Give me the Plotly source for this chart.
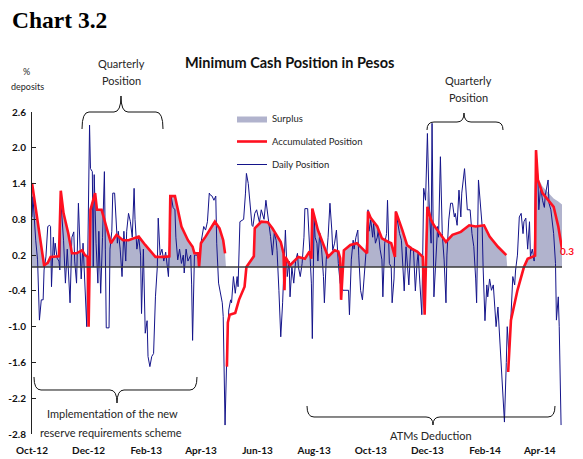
import plotly.graph_objects as go

# ---- data (% of deposits) ----
tick_dates = ["2012-10-01", "2012-12-01", "2013-02-01", "2013-04-01", "2013-06-01",
              "2013-08-01", "2013-10-01", "2013-12-01", "2014-02-01", "2014-04-01"]
tick_labels = ["Oct-12", "Dec-12", "Feb-13", "Apr-13", "Jun-13",
               "Aug-13", "Oct-13", "Dec-13", "Feb-14", "Apr-14"]
y_ticks = [2.6, 2.0, 1.4, 0.8, 0.2, -0.4, -1.0, -1.6, -2.2, -2.8]

acc_dates = [
    "2012-10-01", "2012-10-07", "2012-10-14", "2012-10-18", "2012-10-21", "2012-10-30",
    "2012-11-01", "2012-11-04", "2012-11-09", "2012-11-13", "2012-11-18", "2012-11-24", "2012-11-27", "2012-11-30",
    "2012-12-01", "2012-12-03", "2012-12-08", "2012-12-10", "2012-12-15", "2012-12-20", "2012-12-25", "2012-12-31",
    "2013-01-07", "2013-01-13", "2013-01-24", "2013-01-31",
    "2013-02-11", "2013-02-21", "2013-02-26", "2013-02-27",
    "2013-03-04", "2013-03-11", "2013-03-18", "2013-03-23", "2013-03-25", "2013-03-29", "2013-03-30",
    "2013-04-01", "2013-04-06", "2013-04-16", "2013-04-21", "2013-04-25", "2013-04-27", "2013-04-28", "2013-04-29", "2013-04-30",
    "2013-05-02", "2013-05-08", "2013-05-12", "2013-05-18", "2013-05-20", "2013-05-27", "2013-05-28", "2013-05-29",
    "2013-06-05", "2013-06-12", "2013-06-17", "2013-06-26", "2013-06-29", "2013-06-30",
    "2013-07-01", "2013-07-06", "2013-07-15", "2013-07-22", "2013-07-27", "2013-07-29", "2013-07-30",
    "2013-08-05", "2013-08-12", "2013-08-16", "2013-08-23", "2013-08-27", "2013-08-29", "2013-08-30",
    "2013-09-02", "2013-09-09", "2013-09-16", "2013-09-20", "2013-09-27", "2013-09-28",
    "2013-10-01", "2013-10-08", "2013-10-13", "2013-10-20", "2013-10-23", "2013-10-27", "2013-10-28",
    "2013-11-04", "2013-11-09", "2013-11-14", "2013-11-20", "2013-11-26", "2013-11-28",
    "2013-12-01", "2013-12-05", "2013-12-08", "2013-12-15", "2013-12-21", "2013-12-28",
    "2014-01-06", "2014-01-15", "2014-01-22", "2014-01-31",
    "2014-02-06", "2014-02-15", "2014-02-24", "2014-02-25", "2014-02-26",
    "2014-03-01", "2014-03-08", "2014-03-15", "2014-03-19", "2014-03-24", "2014-03-27", "2014-03-28", "2014-03-30",
    "2014-04-04", "2014-04-10", "2014-04-16", "2014-04-21", "2014-04-25",
]
acc_values = [
    1.41, 0.74, 0.03, 0.07, 0.17, 0.18,
    1.28, 0.90, 0.57, 0.23, 0.23, 0.28, 0.20, 0.17,
    -1.00, 0.96, 1.24, 0.96, 0.96, 0.68, 0.40, 0.54,
    0.45, 0.45, 0.51, 0.37,
    0.17, 0.17, 0.18, 1.19,
    1.19, 0.68, 0.45, 0.34, 0.23, 0.23, 0.00,
    0.40, 0.51, 0.76, 0.65, 0.45, 0.23, None, -1.67, -0.93,
    -0.80, -0.77, -0.55, -0.33, 0.00, 0.17, 0.18, 0.65,
    0.76, 0.75, 0.65, 0.42, 0.23, -0.39,
    0.17, 0.03, 0.17, 0.14, 0.26, 0.14, 0.98,
    0.62, 0.31, 0.17, 0.28, 0.26, 0.15, -0.55,
    0.28, 0.37, 0.40, 0.34, 0.23, 0.93,
    0.82, 0.68, 0.48, 0.42, 0.40, 0.17, 0.93,
    0.62, 0.37, 0.31, 0.26, 0.17, -0.80,
    1.01, 0.79, 0.70, 0.56, 0.42, 0.54,
    0.59, 0.70, 0.68, 0.70,
    0.51, 0.34, 0.20, None, -1.76,
    -0.89, -0.39, 0.00, 0.14, 0.17, 0.19, 1.96, 1.46,
    1.24, 1.12, 1.01, 0.68, 0.30,
]
surplus_values = [
    1.41, 0.74, 0.03, 0.07, 0.17, 0.18,
    1.28, 0.90, 0.57, 0.23, 0.23, 0.28, 0.20, 0.17,
    0.00, 0.96, 1.24, 0.96, 0.96, 0.68, 0.40, 0.54,
    0.45, 0.45, 0.51, 0.37,
    0.17, 0.17, 0.18, 1.19,
    1.19, 0.68, 0.45, 0.34, 0.23, 0.23, 0.00,
    0.40, 0.51, 0.76, 0.65, 0.45, 0.23, 0.00, 0.00, 0.00,
    0.00, 0.00, 0.00, 0.00, 0.00, 0.17, 0.18, 0.65,
    0.76, 0.75, 0.65, 0.42, 0.23, 0.00,
    0.17, 0.03, 0.17, 0.14, 0.26, 0.14, 0.98,
    0.62, 0.31, 0.17, 0.28, 0.26, 0.15, 0.00,
    0.28, 0.37, 0.40, 0.34, 0.23, 0.93,
    0.82, 0.68, 0.48, 0.42, 0.40, 0.17, 0.93,
    0.62, 0.37, 0.31, 0.26, 0.17, 0.00,
    1.30, 0.85, 0.70, 0.56, 0.42, 0.54,
    0.59, 0.70, 0.68, 0.70,
    0.51, 0.34, 0.20, 0.00, 0.00,
    0.00, 0.00, 0.00, 0.14, 0.17, 0.19, 1.96, 1.50,
    1.35, 1.25, 1.15, 1.10, 1.05,
]

daily_dates = [
    "2012-10-01", "2012-10-02", "2012-10-05", "2012-10-07", "2012-10-09", "2012-10-11", "2012-10-13", "2012-10-14",
    "2012-10-16", "2012-10-18", "2012-10-20", "2012-10-21", "2012-10-22", "2012-10-24", "2012-10-25", "2012-10-26",
    "2012-10-28", "2012-10-30", "2012-10-31",
    "2012-11-01", "2012-11-04", "2012-11-06", "2012-11-08", "2012-11-11", "2012-11-13", "2012-11-15", "2012-11-16",
    "2012-11-18", "2012-11-20", "2012-11-22", "2012-11-23", "2012-11-25", "2012-11-27", "2012-11-28", "2012-11-29",
    "2012-11-30",
    "2012-12-02", "2012-12-03", "2012-12-05", "2012-12-06", "2012-12-07", "2012-12-09", "2012-12-11", "2012-12-12",
    "2012-12-14", "2012-12-16", "2012-12-18", "2012-12-19", "2012-12-20", "2012-12-23", "2012-12-24", "2012-12-26",
    "2012-12-27", "2012-12-29", "2012-12-30",
    "2013-01-01", "2013-01-02", "2013-01-04", "2013-01-06", "2013-01-08", "2013-01-10", "2013-01-11", "2013-01-13",
    "2013-01-15", "2013-01-17", "2013-01-19", "2013-01-20", "2013-01-22", "2013-01-24", "2013-01-26", "2013-01-27",
    "2013-01-29", "2013-01-31",
    "2013-02-02", "2013-02-03", "2013-02-05", "2013-02-07", "2013-02-09", "2013-02-11", "2013-02-13", "2013-02-14",
    "2013-02-16", "2013-02-18", "2013-02-20", "2013-02-22", "2013-02-25", "2013-02-26", "2013-02-28",
    "2013-03-02", "2013-03-04", "2013-03-05", "2013-03-07", "2013-03-09", "2013-03-11", "2013-03-13", "2013-03-14",
    "2013-03-16", "2013-03-18", "2013-03-21", "2013-03-22", "2013-03-23", "2013-03-24", "2013-03-25", "2013-03-28",
    "2013-03-30",
    "2013-04-01", "2013-04-04", "2013-04-06", "2013-04-08", "2013-04-10", "2013-04-11", "2013-04-13", "2013-04-15",
    "2013-04-17", "2013-04-18", "2013-04-20", "2013-04-22", "2013-04-24", "2013-04-25", "2013-04-27", "2013-04-29",
    "2013-05-01", "2013-05-03", "2013-05-04", "2013-05-06", "2013-05-08", "2013-05-10", "2013-05-11", "2013-05-13",
    "2013-05-17", "2013-05-19", "2013-05-20", "2013-05-22", "2013-05-24", "2013-05-26", "2013-05-27", "2013-05-29",
    "2013-05-31",
    "2013-06-01", "2013-06-03", "2013-06-05", "2013-06-07", "2013-06-08", "2013-06-10", "2013-06-12", "2013-06-14",
    "2013-06-15", "2013-06-17", "2013-06-19", "2013-06-21", "2013-06-22", "2013-06-24", "2013-06-26", "2013-06-28",
    "2013-06-30",
    "2013-07-01", "2013-07-03", "2013-07-05", "2013-07-06", "2013-07-08", "2013-07-10", "2013-07-12", "2013-07-14",
    "2013-07-15", "2013-07-17", "2013-07-19", "2013-07-21", "2013-07-22", "2013-07-25", "2013-07-27", "2013-07-29",
    "2013-07-30",
    "2013-08-01", "2013-08-02", "2013-08-04", "2013-08-05", "2013-08-07", "2013-08-09", "2013-08-11", "2013-08-12",
    "2013-08-14", "2013-08-16", "2013-08-18", "2013-08-20", "2013-08-21", "2013-08-23", "2013-08-25", "2013-08-27",
    "2013-08-28", "2013-08-29",
    "2013-09-01", "2013-09-05", "2013-09-07", "2013-09-08", "2013-09-10", "2013-09-12", "2013-09-13", "2013-09-15",
    "2013-09-17", "2013-09-18", "2013-09-20", "2013-09-22", "2013-09-24", "2013-09-26", "2013-09-28", "2013-09-29",
    "2013-10-01", "2013-10-03", "2013-10-04", "2013-10-06", "2013-10-08", "2013-10-09", "2013-10-11", "2013-10-13",
    "2013-10-14", "2013-10-16", "2013-10-18", "2013-10-19", "2013-10-21", "2013-10-23", "2013-10-24", "2013-10-26",
    "2013-10-28", "2013-10-30",
    "2013-11-01", "2013-11-03", "2013-11-04", "2013-11-06", "2013-11-08", "2013-11-09", "2013-11-11", "2013-11-13",
    "2013-11-14", "2013-11-16", "2013-11-18", "2013-11-20", "2013-11-21", "2013-11-23", "2013-11-25", "2013-11-27",
    "2013-11-29",
    "2013-12-01", "2013-12-03", "2013-12-05", "2013-12-06", "2013-12-08", "2013-12-10", "2013-12-12", "2013-12-13",
    "2013-12-15", "2013-12-17", "2013-12-19", "2013-12-21", "2013-12-22", "2013-12-24", "2013-12-26", "2013-12-28",
    "2013-12-30", "2013-12-31",
    "2014-01-02", "2014-01-04", "2014-01-06", "2014-01-07", "2014-01-10", "2014-01-13", "2014-01-16", "2014-01-18",
    "2014-01-20", "2014-01-22", "2014-01-23", "2014-01-25", "2014-01-27", "2014-01-29", "2014-01-30",
    "2014-02-01", "2014-02-03", "2014-02-04", "2014-02-06", "2014-02-08", "2014-02-10", "2014-02-11", "2014-02-13",
    "2014-02-15", "2014-02-17", "2014-02-18", "2014-02-20", "2014-02-22", "2014-02-24", "2014-02-25", "2014-02-27",
    "2014-03-01", "2014-03-03", "2014-03-05", "2014-03-06", "2014-03-08", "2014-03-10", "2014-03-12", "2014-03-14",
    "2014-03-15", "2014-03-17", "2014-03-19", "2014-03-21", "2014-03-22", "2014-03-24", "2014-03-26", "2014-03-28",
    "2014-03-30", "2014-03-31",
    "2014-04-02", "2014-04-04", "2014-04-06", "2014-04-07", "2014-04-10", "2014-04-11", "2014-04-13", "2014-04-14",
    "2014-04-16", "2014-04-18", "2014-04-19", "2014-04-21", "2014-04-22", "2014-04-24",
]
daily_values = [
    0.84, 1.18, 0.45, 0.12, -0.89, -0.55, -0.55, -0.05,
    0.17, 0.68, 0.70, 0.68, -0.33, 0.50, 0.20, 0.40,
    0.15, 0.10, -0.05,
    1.12, 0.45, -0.27, 0.30, -0.60, 0.50, 0.59, 0.10,
    -0.27, 1.07, 0.30, -0.20, 0.40, -0.30, -0.85, -1.00,
    0.10,
    2.38, 1.65, 1.60, 0.00, 1.55, 0.40, -0.27, 0.60,
    -0.44, 0.50, 1.60, 0.30, -1.02, -1.02, 0.30, 0.60,
    1.24, 1.24, 0.90,
    0.40, 0.60, 0.30, -0.16, 0.60, 0.10, 0.60, 0.90,
    0.76, 0.50, 1.32, 0.80, 0.30, 0.50, 0.20, -0.78,
    0.30, -1.11,
    -0.90, -1.50, -1.67, -1.50, -1.45, -0.50, 0.00, 0.82,
    0.20, 0.30, 0.10, 0.25, -0.16, 0.30, 1.18,
    1.00, 0.96, 0.50, 0.12, 0.30, 0.06, 0.20, -0.10,
    0.30, 0.10, 0.20, -0.30, -1.23, -0.20, 0.20, 0.20,
    0.10,
    0.40, 0.68, 0.62, 0.76, 1.24, 1.21, 1.19, 1.12,
    1.19, 0.40, -0.27, -0.44, -0.60, -0.83, -2.65, -1.39,
    -0.72, -0.55, -0.60, -0.16, -0.44, -0.16, -0.33, 0.76,
    0.80, 1.24, 1.57, 1.40, 1.01, 0.70, 0.68, 0.90,
    0.96,
    0.90, 0.75, 0.96, 0.85, 0.80, 1.12, 0.90, 0.60,
    0.51, 0.20, 0.57, 0.45, 0.28, -0.39, -1.17, -0.60,
    0.20,
    0.62, -0.16, 0.10, -0.50, 0.00, -0.27, 0.10, 0.23,
    0.00, -0.16, 0.06, 0.50, 0.98, 0.98, 0.40, -0.27,
    -1.20,
    0.84, 0.50, 0.40, 0.10, 0.57, 0.30, -0.16, -0.60,
    0.12, 0.50, 1.07, 0.62, 0.28, 0.40, 0.62, 0.06,
    -0.20, -0.27,
    -0.39, -0.39, -0.39, -0.80, 0.12, 0.45, 0.30, 0.50,
    0.62, 0.20, -0.39, -0.55, -0.20, 0.28, 0.96, 0.60,
    0.79, 0.50, 0.73, 0.40, 0.50, 0.62, 0.30, 0.12,
    -0.50, 0.40, 0.56, 1.12, 0.06, 0.00, -0.60, -0.20,
    0.93, 0.70,
    0.56, 0.45, 0.17, -0.40, 0.34, 0.12, -0.30, 0.34,
    0.28, 0.30, -0.40, 0.10, 0.23, -0.30, -0.80, 1.32,
    1.12,
    2.24, 0.96, 0.40, 2.41, -0.50, 0.20, 0.68, 0.50,
    1.85, 0.56, 0.12, -0.60, 0.20, 0.79, 1.07, 1.07,
    0.84, 0.90,
    0.70, 1.29, 0.84, 1.24, 1.65, 0.96, 0.96, 0.56,
    0.34, -0.20, -0.60, 1.46, 1.12, 0.68, 0.00,
    -0.90, -0.30, -0.50, -0.20, -0.39, -0.30, -0.60, -1.00,
    -0.67, -1.20, -1.50, -2.00, -2.60, -1.60, -1.00, -1.50,
    -0.78, -0.16, -0.30, -0.05, 0.20, 0.84, 0.90, 0.56,
    0.76, 0.82, 0.30, 0.76, 0.17, 0.30, 0.10, 1.96,
    1.50, 0.96,
    1.35, 1.12, 1.00, 1.20, 1.46, 1.07, 0.96, 0.80,
    0.56, 0.06, -0.89, -0.50, -1.00, -2.65,
]
assert len(daily_dates) == len(daily_values)
assert len(acc_dates) == len(acc_values) == len(surplus_values)

RED = "#FF1020"
NAVY = "#14148A"
FILL = "#B1B3CD"
TXT = "#262626"
FONT = "Lato, 'Open Sans', sans-serif"

# the page body adds an 8px offset, so the figure is 8px smaller than the window
FIG_W, FIG_H, OFF = 575, 451, 8
# plot area, in window pixels
L, R, T, B = 32, 562, 112, 434
W, H = R - L, B - T


def px(x, y):
    # window pixels -> paper coordinates
    return (x - L) / W, (B - y) / H


def brace(x0, x1, xt, y, yend, ytip, r=7):
    def p(x, yy):
        a, b = px(x, yy)
        return f"{a:.5f},{b:.5f}"
    return (f"M {p(x0, yend)} Q {p(x0, y)} {p(x0 + r, y)} L {p(xt - r, y)} "
            f"Q {p(xt, y)} {p(xt, ytip)} Q {p(xt, y)} {p(xt + r, y)} "
            f"L {p(x1 - r, y)} Q {p(x1, y)} {p(x1, yend)}")


fig = go.Figure()
fig.add_trace(go.Scatter(x=acc_dates, y=surplus_values, name="Surplus", mode="lines",
                         fill="tozeroy", fillcolor=FILL, line=dict(width=0),
                         legendgroup="a", legendrank=1))
fig.add_trace(go.Scatter(x=daily_dates, y=daily_values, name="Daily Position", mode="lines",
                         line=dict(color=NAVY, width=1), legendgroup="c", legendrank=3))
fig.add_trace(go.Scatter(x=acc_dates, y=acc_values, name="Accumulated Position", mode="lines",
                         line=dict(color=RED, width=2.6), connectgaps=False,
                         legendgroup="b", legendrank=2))

shapes = [
    dict(type="line", xref="paper", yref="y", x0=0, x1=1, y0=0, y1=0,
         line=dict(color="#3a3a3a", width=1.5), layer="above"),
    dict(type="path", xref="paper", yref="paper", path=brace(82, 163, 121, 112, 129, 96),
         line=dict(color="#111", width=1)),
    dict(type="path", xref="paper", yref="paper", path=brace(427, 503, 464, 122, 130, 113),
         line=dict(color="#111", width=1)),
    dict(type="path", xref="paper", yref="paper", path=brace(34, 197, 117, 390, 377, 403),
         line=dict(color="#111", width=1)),
    dict(type="path", xref="paper", yref="paper", path=brace(307, 555, 433, 417, 406, 425),
         line=dict(color="#111", width=1)),
]

notes = [
    ("<b>Chart 3.2</b>", 10, 20, 23.5, "left", "Liberation Serif, 'DejaVu Serif', serif", "#000"),
    ("<b>Minimum Cash Position in Pesos</b>", 289, 62, 14.5, "center", FONT, "#111"),
    ("%", 26, 71, 9, "center", FONT, TXT),
    ("deposits", 27, 87, 9, "center", FONT, TXT),
    ("Quarterly", 121, 63, 11, "center", FONT, TXT),
    ("Position", 121, 80, 11, "center", FONT, TXT),
    ("Quarterly", 468, 80, 11, "center", FONT, TXT),
    ("Position", 468, 97, 11, "center", FONT, TXT),
    ("Implementation of the new", 112, 413, 11, "center", FONT, TXT),
    ("reserve requirements scheme", 111, 432, 11, "center", FONT, TXT),
    ("ATMs Deduction", 431, 435, 11, "center", FONT, TXT),
    ("<b>0.3</b>", 576, 251, 10, "right", FONT, RED),
]
annotations = []
for text, x, y, size, anchor, family, color in notes:
    ax, ay = px(x, y)
    annotations.append(dict(text=text, x=ax, y=ay, xref="paper", yref="paper",
                            xanchor=anchor, yanchor="middle", showarrow=False,
                            font=dict(size=size, family=family, color=color)))

fig.update_layout(
    width=FIG_W, height=FIG_H,
    margin=dict(l=L - OFF, r=FIG_W - (R - OFF), t=T - OFF, b=FIG_H - (B - OFF)),
    paper_bgcolor="white", plot_bgcolor="white",
    font=dict(family=FONT, color=TXT),
    shapes=shapes, annotations=annotations,
    showlegend=True,
    legend=dict(x=px(232, 0)[0], y=px(0, 104)[1], xanchor="left", yanchor="top",
                bgcolor="rgba(0,0,0,0)", font=dict(size=9.5, family=FONT, color=TXT),
                tracegroupgap=4, itemwidth=30),
    hovermode=False,
)
fig.update_xaxes(type="date", range=["2012-10-01", "2014-04-25"],
                 tickvals=tick_dates, ticktext=tick_labels,
                 tickfont=dict(size=10, weight="bold", color="#111"),
                 ticks="outside", ticklen=7, tickcolor="rgba(0,0,0,0)",
                 showline=False, showgrid=False, zeroline=False, automargin=False)
fig.update_yaxes(range=[-2.8, 2.6], tickvals=y_ticks, ticktext=[f"{v:.1f}" for v in y_ticks],
                 tickfont=dict(size=10, weight="bold", color="#111"),
                 ticks="inside", ticklen=4, tickcolor="#222",
                 showline=True, linecolor="#222", linewidth=1,
                 showgrid=False, zeroline=False, automargin=False, ticklabelstandoff=3)

fig.write_html("out.html")
